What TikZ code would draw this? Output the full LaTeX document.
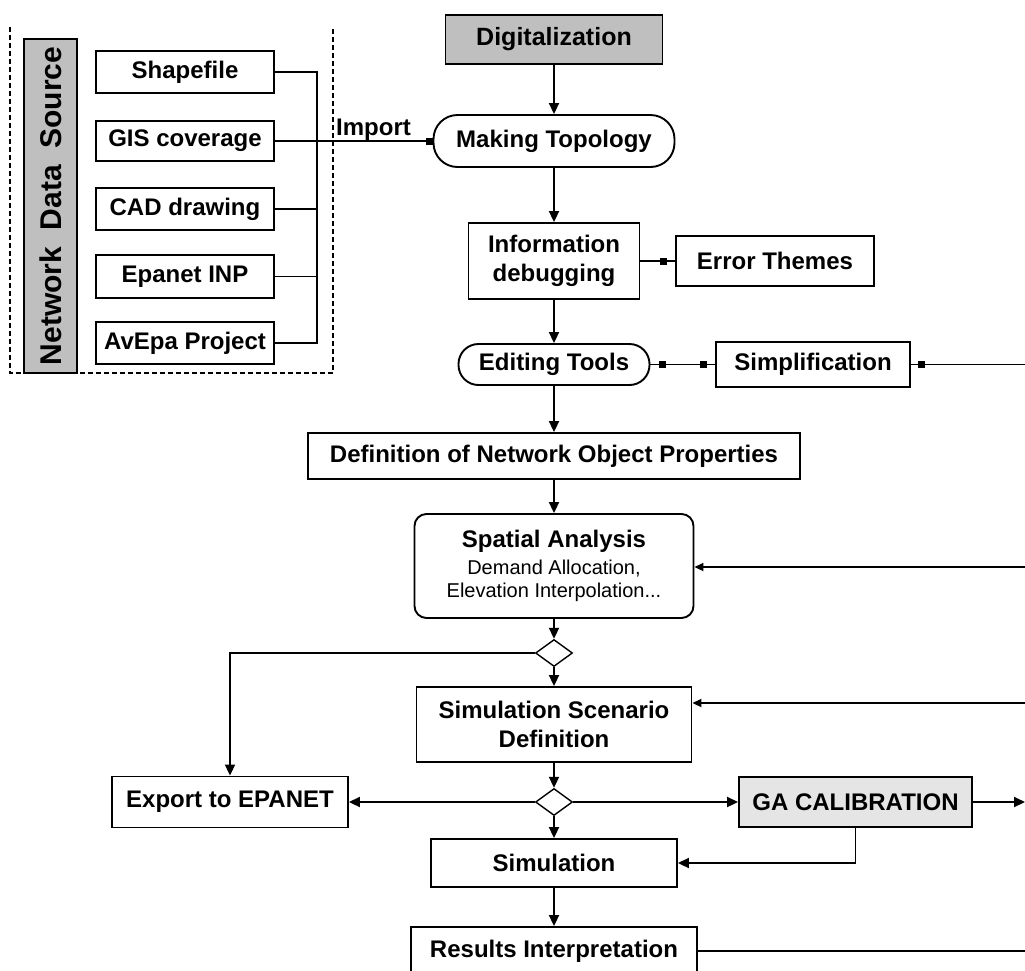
\documentclass[tikz,border=0pt]{standalone}
\usepackage{fontspec}
\setmainfont{Liberation Sans}
\usetikzlibrary{arrows.meta,shapes.geometric,calc}

\begin{document}
\begin{tikzpicture}[x=1pt,y=-1pt,line width=1.9pt,
  box/.style={draw, rectangle, inner sep=0pt, align=center,
    font=\fontsize{24}{29}\selectfont\bfseries},
  stadium/.style={box, rounded corners=#1},
  arr/.style={-{Triangle[width=10pt,length=11pt]}},
  arrs/.style={-{Triangle[width=8pt,length=9pt]}},
  sqarr/.style={-{Square[width=7pt,length=7pt]}},
  sqm/.style={fill=black, draw=none, inner sep=0pt, minimum size=7pt},
  dia/.style={draw, diamond, inner sep=0pt, minimum width=37pt, minimum height=27pt, line width=1.4pt},
  frame/.style={line width=1.4pt, dash pattern=on 5pt off 3pt}
]
\useasboundingbox (0,0) rectangle (1025,970);

% ---- left frame with sources
\draw[frame] (10,27) -- (10,373) -- (333,373) -- (333,27);
\node[draw, fill=black!25, minimum width=53pt, minimum height=334pt, inner sep=0pt] (nds) at (50.5,206) {};
\node[rotate=90, font=\fontsize{30}{30}\selectfont\bfseries] (ndslabel) at (nds.center) {Network\ \ Data\ \ Source};

\node[box, minimum width=178pt, minimum height=42pt] (shp) at (185,72) {Shapefile};
\node[box, minimum width=178pt, minimum height=40pt] (gis) at (185,141) {GIS coverage};
\node[box, minimum width=178pt, minimum height=42pt] (cad) at (185,209) {CAD drawing};
\node[box, minimum width=178pt, minimum height=43pt] (epa) at (185,276.5) {Epanet INP};
\node[box, minimum width=178pt, minimum height=42pt] (ave) at (185,343) {AvEpa Project};

\coordinate (busT) at (317,72);
\coordinate (busB) at (317,343);
\draw (shp.east) -- (busT) -- (busB) -- (ave.east);
\draw (cad.east) -- (cad.east -| busT);
\draw (epa.east) -- (epa.east -| busT);

% ---- main column
\node[box, fill=black!25, minimum width=217pt, minimum height=49pt, font=\fontsize{25}{29}\selectfont\bfseries] (dig) at (554,39.5) {Digitalization};
\node[stadium=24pt, minimum width=241pt, minimum height=52pt] (topo) at (554,141) {Making Topology};
\node[box, minimum width=171pt, minimum height=76pt] (info) at (554,261) {Information\\debugging};
\node[box, minimum width=198pt, minimum height=50pt] (err) at (775,261) {Error Themes};
\node[stadium=20pt, minimum width=191pt, minimum height=41pt] (edit) at (554,364.5) {Editing Tools};
\node[box, minimum width=194pt, minimum height=45pt] (simp) at (813,364.5) {Simplification};
\node[box, minimum width=492pt, minimum height=46pt] (def) at (554,456) {Definition of Network Object Properties};
\node[box, rounded corners=12pt, minimum width=279pt, minimum height=104pt] (spat) at (554,566)
  {Spatial Analysis\\[-2pt]{\fontsize{20}{22}\selectfont\mdseries Demand Allocation,}\\[-6pt]{\fontsize{20}{22}\selectfont\mdseries Elevation Interpolation...}};
\node[dia] (dia1) at (554,653) {};
\node[box, minimum width=275pt, minimum height=75pt] (scen) at (554,724.5) {Simulation Scenario\\Definition};
\node[dia] (dia2) at (554,802) {};
\node[box, minimum width=236pt, minimum height=51pt] (exp) at (230,802) {Export to EPANET};
\node[box, fill=black!10, minimum width=233pt, minimum height=50pt] (ga) at (855.5,802) {GA CALIBRATION};
\node[box, minimum width=246pt, minimum height=48pt] (sim) at (554,863) {Simulation};
\node[box, minimum width=286pt, minimum height=48pt] (res) at (554,951) {Results Interpretation};

\node[anchor=base, font=\fontsize{24}{29}\selectfont\bfseries] (imp) at (373.5,135) {Import};

% ---- connectors
\draw[sqarr] (gis.east) -- (topo.west);
\draw[arr] (dig.south) -- (topo.north);
\draw[arr] (topo.south) -- (info.north);
\draw (info.east) -- (err.west) node[sqm, pos=1, xshift=-12pt] {};
\draw[arr] (info.south) -- (edit.north);
\draw (edit.east) -- (simp.west) node[sqm, pos=0, xshift=12pt] {} node[sqm, pos=1, xshift=-12pt] {};
\coordinate (rsimp) at (1025,364.5);
\draw (simp.east) -- (rsimp) node[sqm, pos=0, xshift=11pt] {};
\draw[arr] (edit.south) -- (def.north);
\draw[arr] (def.south) -- (spat.north);
\coordinate (rspat) at (1025,567);
\draw[arrs] (rspat) -- (rspat -| spat.east);
\draw[arr] (spat.south) -- (dia1.north);
\draw[arr] (dia1.south) -- (scen.north);
\draw[arr] (dia1.west) -| (exp.north);
\coordinate (rscen) at (1025,703);
\draw[arrs] (rscen) -- (rscen -| scen.east);
\draw[arr] (scen.south) -- (dia2.north);
\draw[arr] (dia2.west) -- (exp.east);
\draw[arr] (dia2.east) -- (ga.west);
\draw[arr] (dia2.south) -- (sim.north);
\coordinate (rga) at (1025,802);
\draw[arr] (ga.east) -- (rga);
\draw[arr] (ga.south) |- (sim.east);
\draw[arr] (sim.south) -- (res.north);
\coordinate (rres) at (1025,951);
\draw (res.east) -- (rres);
\end{tikzpicture}
\end{document}
